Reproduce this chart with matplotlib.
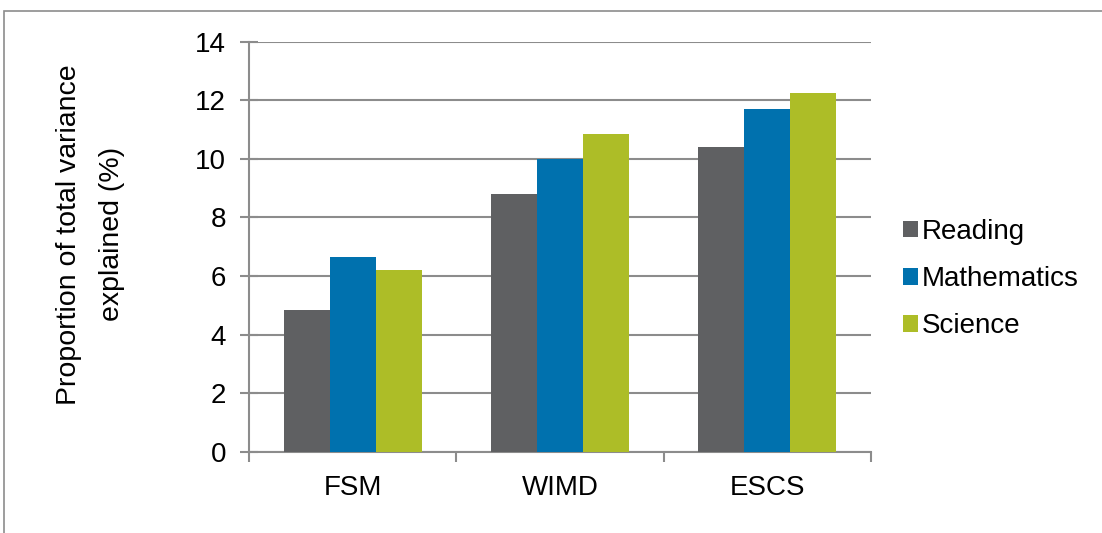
import numpy as np
import matplotlib
matplotlib.use('Agg')
from matplotlib import pyplot as plt
from matplotlib.patches import Rectangle

categories = ['FSM', 'WIMD', 'ESCS']
reading = [4.85, 8.8, 10.4]
mathematics = [6.65, 10.0, 11.7]
science = [6.2, 10.85, 12.25]

series_names = ['Reading', 'Mathematics', 'Science']
colors = ['#5f6062', '#0071ae', '#adbd27']

plt.rcParams['font.family'] = ['Liberation Sans', 'DejaVu Sans']

fig = plt.figure(figsize=[11.02, 5.33], dpi=100)
ax = fig.add_axes([249 / 1102, 1 - 451.7 / 533, (871 - 249) / 1102, (451.7 - 41.7) / 533])

# outer chart frame (right and bottom run off the image)
fig.patches.append(Rectangle((4 / 1102, -0.1), 1.2, 1 - 11 / 533 + 0.1,
                             transform=fig.transFigure, fill=False,
                             edgecolor='#8c8c8c', linewidth=1.2))

x = np.arange(len(categories))
w = 1 / 4.5
for i, (vals, name) in enumerate(zip([reading, mathematics, science], series_names)):
    ax.bar(x + (i - 1) * w, vals, width=w, color=colors[i], label=name,
           edgecolor='none', zorder=3)

ax.set_xlim(-0.5, 2.5)
ax.set_ylim(0, 14)
ax.set_yticks(range(0, 15, 2))
ax.set_xticks(x)
ax.set_xticklabels(categories)
ax.set_xticks([-0.5, 0.5, 1.5, 2.5], minor=True)

grid_color = '#8c8c8c'
ax.yaxis.grid(True, color=grid_color, linewidth=1.5, zorder=0)
for s in ['top', 'right']:
    ax.spines[s].set_visible(False)
for s in ['left', 'bottom']:
    ax.spines[s].set_color(grid_color)
    ax.spines[s].set_linewidth(1.5)

ax.tick_params(axis='y', direction='inout', length=13, width=1.5, color=grid_color,
               labelsize=20, pad=10)
ax.tick_params(axis='x', which='major', length=0, labelsize=20, pad=17)
ax.tick_params(axis='x', which='minor', direction='out', length=7, width=1.5,
               color=grid_color)

ax.set_ylabel('Proportion of total variance\nexplained (%)', fontsize=20.5,
              linespacing=1.85)
ax.yaxis.set_label_coords(-0.2, 0.53)

ax.legend(loc='center left', bbox_to_anchor=(1.033, 0.421), frameon=False,
          fontsize=20, handlelength=0.55, handleheight=0.55, handletextpad=0.15,
          labelspacing=0.77, borderaxespad=0)

plt.savefig('out.png')
plt.close()
